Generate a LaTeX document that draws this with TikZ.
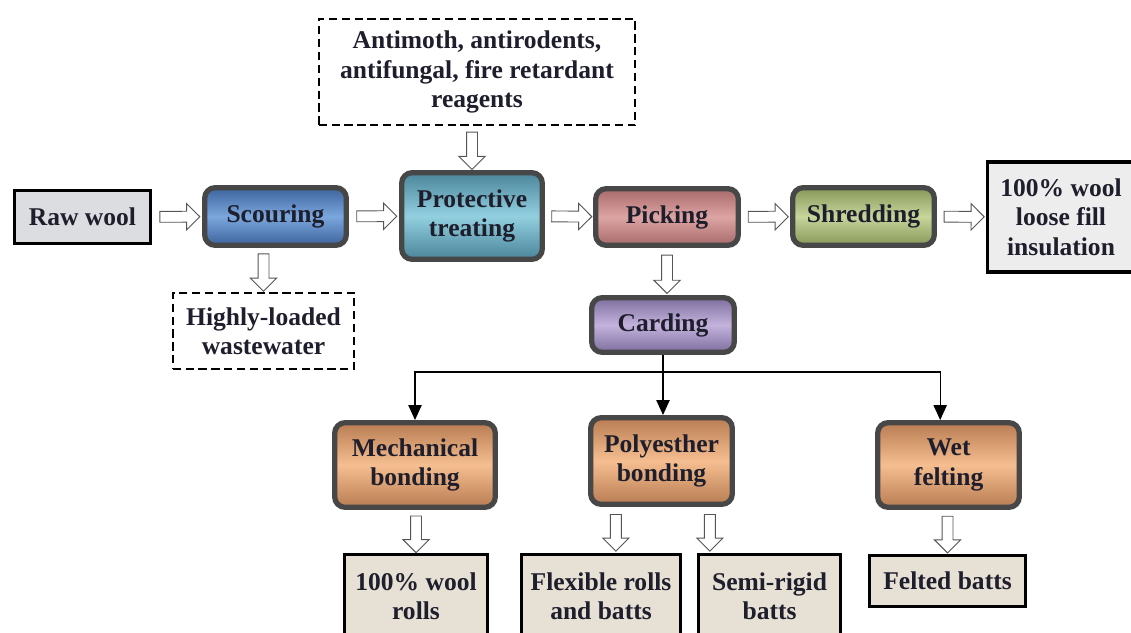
\documentclass[tikz,border=0pt]{standalone}
\usepackage{fontspec}
\setmainfont{Liberation Serif}
\usetikzlibrary{shapes.arrows,arrows.meta}

\definecolor{inkc}{HTML}{1E1E2C}
\definecolor{rimc}{HTML}{474747}
\definecolor{arrowc}{HTML}{555555}
\definecolor{blueA}{HTML}{3D639C}
\definecolor{blueB}{HTML}{7AA7DD}
\definecolor{tealA}{HTML}{4A8499}
\definecolor{tealB}{HTML}{92D0E0}
\definecolor{pinkA}{HTML}{A86A6A}
\definecolor{pinkB}{HTML}{DDA4A4}
\definecolor{oliveA}{HTML}{879758}
\definecolor{oliveB}{HTML}{C6D69C}
\definecolor{lilacA}{HTML}{7E6E9E}
\definecolor{lilacB}{HTML}{C2B2DC}
\definecolor{tanA}{HTML}{B87C52}
\definecolor{tanB}{HTML}{F5BE90}
\definecolor{paperc}{HTML}{E6E0D5}
\definecolor{greyc}{HTML}{DCDDE1}
\definecolor{snowc}{HTML}{EDEDED}

\newcommand\labelfont{\fontsize{21.8}{25}\selectfont\bfseries}

\tikzset{
    stage/.style={draw=rimc, line width=4.5pt, rounded corners=9pt, align=center,
        font=\labelfont, text=inkc, inner sep=2pt},
    band/.style 2 args={top color=#1, bottom color=#1, middle color=#2},
    outbox/.style={draw=black, line width=2.5pt, align=center, font=\labelfont,
        text=inkc, inner sep=2pt},
    sidebox/.style={draw=black, line width=1.5pt, dash pattern=on 7pt off 4pt,
        fill=white, align=center, font=\labelfont, text=inkc, inner sep=2pt},
    harrow/.style={single arrow, draw=arrowc, fill=white, line width=0.8pt,
        inner sep=0pt, text height=0.3cm, text depth=0pt, text width=0pt,
        single arrow head extend=0.23cm, minimum height=1.2cm,
        sloped, allow upside down},
    tree/.style={line width=1.1pt, black},
}

\begin{document}
\begin{tikzpicture}[x=0.03cm, y=-0.03cm]
    \clip (0,0) rectangle (1131,632);

    % main line
    \node[outbox, line width=3pt, fill=greyc, minimum width=4.07cm, minimum height=1.58cm]
        (raw) at (82.5,217) {Raw wool};
    \node[stage, band={blueA}{blueB}, minimum width=4.25cm, minimum height=1.73cm]
        (scour) at (275.5,216.5) {Scouring};
    \node[stage, band={tealA}{tealB}, minimum width=4.22cm, minimum height=2.6cm]
        (protect) at (472,216) {Protective\\treating};
    \node[stage, band={pinkA}{pinkB}, minimum width=4.28cm, minimum height=1.7cm]
        (pick) at (667,217) {Picking};
    \node[stage, band={oliveA}{oliveB}, minimum width=4.25cm, minimum height=1.73cm]
        (shred) at (863.5,216.5) {Shredding};
    \node[outbox, line width=3pt, fill=snowc, minimum width=4.4cm, minimum height=3.3cm]
        (loose) at (1061,217) {100\% wool\\loose fill\\insulation};

    % inputs and by-products
    \node[sidebox, minimum width=9.5cm, minimum height=3.2cm] (moth) at (477,72)
        {Antimoth, antirodents,\\antifungal, fire retardant\\reagents};
    \node[sidebox, minimum width=5.45cm, minimum height=2.3cm] (waste) at (263.5,331)
        {Highly-loaded\\wastewater};

    % carding and bonding
    \node[stage, band={lilacA}{lilacB}, minimum width=4.28cm, minimum height=1.64cm]
        (card) at (663,325) {Carding};
    \node[stage, band={tanA}{tanB}, minimum width=4.82cm, minimum height=2.54cm]
        (mech) at (415,465) {Mechanical\\bonding};
    \node[stage, band={tanA}{tanB}, minimum width=4.25cm, minimum height=2.6cm]
        (poly) at (661.5,461) {Polyesther\\bonding};
    \node[stage, band={tanA}{tanB}, minimum width=4.25cm, minimum height=2.54cm]
        (wet) at (948.5,465) {Wet\\felting};

    % products
    \node[outbox, fill=paperc, minimum width=4.28cm, minimum height=2.51cm]
        (rolls) at (416,596.5) {100\% wool\\rolls};
    \node[outbox, fill=paperc, minimum width=4.76cm, minimum height=2.51cm]
        (flex) at (601,596.5) {Flexible rolls\\and batts};
    \node[outbox, fill=paperc, minimum width=4.25cm, minimum height=2.51cm]
        (semi) at (769.5,596.5) {Semi-rigid\\batts};
    \node[outbox, fill=paperc, minimum width=4.67cm, minimum height=1.55cm]
        (felt) at (947.5,581) {Felted batts};

    % hollow arrows
    \path (raw) -- node[harrow] {} (scour);
    \path (scour) -- node[harrow] {} (protect);
    \path (protect) -- node[harrow] {} (pick);
    \path (pick) -- node[harrow] {} (shred);
    \path (shred) -- node[harrow] {} (loose);
    \path (moth.south -| protect.north) -- node[harrow, minimum height=1.12cm] {} (protect.north);
    \path (scour.south -| waste.north) -- node[harrow, minimum height=1.12cm] {} (waste.north);
    \path (pick.south) -- node[harrow, minimum height=1.15cm] {} (pick.south |- card.north);
    \path (mech.south -| rolls.north) -- node[harrow, minimum height=1.1cm] {} (rolls.north);
    \path ([xshift=-1.37cm]poly.south) -- node[harrow, minimum height=1.1cm] {}
        ([xshift=-1.37cm]poly.south |- flex.north);
    \path ([xshift=1.45cm]poly.south) -- node[harrow, minimum height=1.1cm] {}
        ([xshift=1.45cm]poly.south |- semi.north);
    \path (wet.south -| felt.north) -- node[harrow, minimum height=1.1cm] {} (felt.north);

    % branching
    \draw[tree] (card.south) -- ++(0,17) coordinate (hub);
    \draw[tree, -{Triangle[width=0.4cm, length=0.45cm]}] (hub) -| (mech.north);
    \draw[tree, -{Triangle[width=0.4cm, length=0.45cm]}] (hub) -- (hub |- poly.north);
    \draw[tree, -{Triangle[width=0.4cm, length=0.45cm]}] (hub) -| ([xshift=-0.25cm]wet.north);
\end{tikzpicture}
\end{document}
